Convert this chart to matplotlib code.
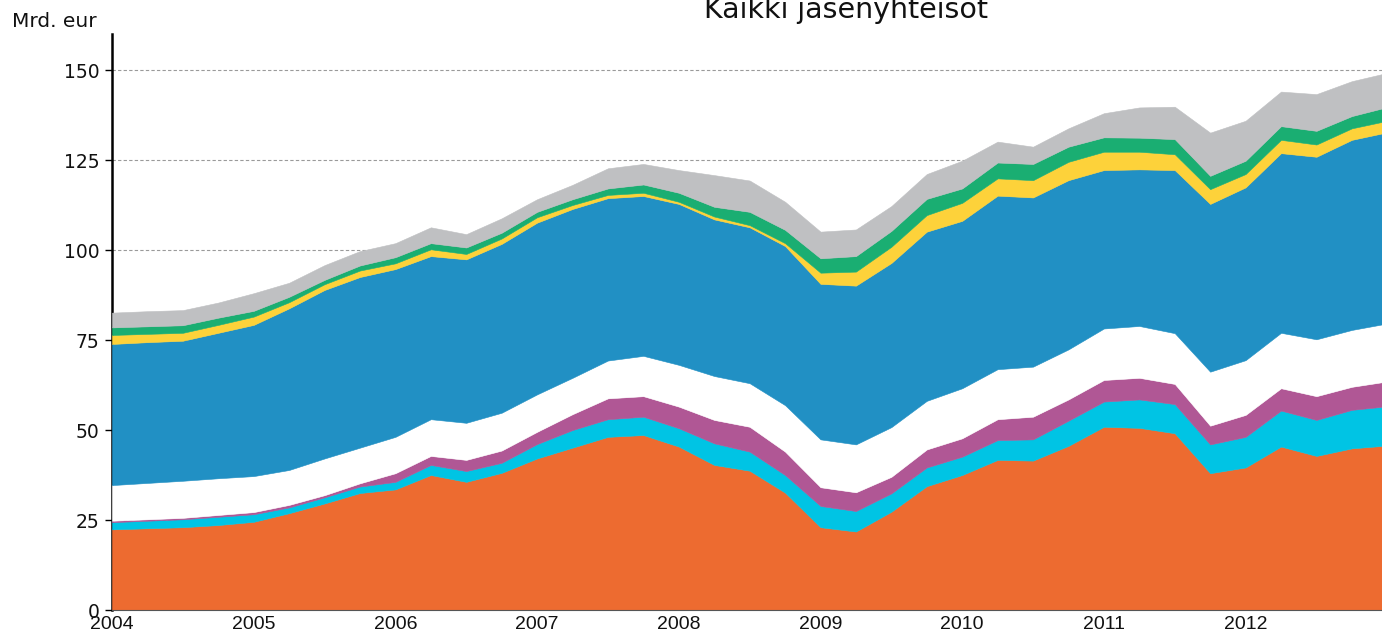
import matplotlib
matplotlib.use("Agg")
import matplotlib.pyplot as plt
import numpy as np

# Quarterly observations, 2004Q1 .. 2013Q1 (x in decimal years)
quarters = [2004 + 0.25 * i for i in range(37)]

orange = [22.4, 22.7, 23.0, 23.6, 24.5, 26.9, 29.6, 32.5, 33.5, 37.5, 35.6, 38.1,
          42.1, 45.1, 48.1, 48.6, 45.4, 40.3, 38.7, 32.6, 23.0, 21.8, 27.3, 34.4,
          37.5, 41.7, 41.5, 45.6, 50.9, 50.6, 49.1, 38.0, 39.6, 45.4, 42.8, 44.9, 45.7]
cyan = [2.0, 2.1, 2.2, 2.3, 2.1, 1.6, 1.7, 1.8, 2.1, 2.8, 3.0, 2.8,
        4.0, 4.9, 4.9, 5.1, 5.1, 6.0, 5.3, 4.9, 5.9, 5.7, 5.1, 5.2,
        5.1, 5.5, 5.9, 7.0, 7.0, 7.9, 8.1, 8.0, 8.5, 10.0, 10.0, 10.7, 10.9]
purple = [0.4, 0.4, 0.4, 0.5, 0.6, 0.7, 0.6, 0.9, 2.4, 2.5, 3.1, 3.4,
          3.4, 4.4, 5.8, 5.7, 6.0, 6.5, 6.9, 6.5, 5.2, 5.2, 4.6, 5.0,
          5.1, 5.8, 6.3, 5.9, 6.0, 6.0, 5.6, 5.2, 6.1, 6.2, 6.6, 6.4, 6.9]
white = [9.9, 10.1, 10.3, 10.2, 10.0, 9.7, 10.2, 9.9, 10.1, 10.2, 10.3, 10.5,
         10.4, 10.1, 10.5, 11.2, 11.6, 12.2, 12.1, 12.9, 13.3, 13.3, 13.8, 13.5,
         13.9, 13.9, 13.9, 13.9, 14.3, 14.4, 14.1, 15.0, 15.2, 15.4, 15.8, 15.8, 16.1]
blue = [39.2, 39.1, 38.9, 40.4, 42.0, 44.9, 46.8, 47.4, 46.6, 45.3, 45.4, 46.9,
        47.7, 46.9, 45.1, 44.4, 44.7, 43.5, 43.3, 44.2, 43.2, 44.1, 45.6, 47.0,
        46.5, 48.2, 47.0, 47.0, 44.0, 43.5, 45.3, 46.6, 48.0, 49.9, 50.7, 52.8, 53.1]
yellow = [2.5, 2.3, 2.2, 2.2, 2.3, 1.7, 1.6, 1.8, 1.6, 1.9, 1.5, 1.5,
          1.5, 1.1, 0.9, 0.9, 0.6, 0.8, 0.6, 0.8, 3.1, 3.9, 4.5, 4.6,
          5.0, 4.8, 4.8, 5.1, 5.1, 4.9, 4.4, 4.1, 3.7, 3.7, 3.4, 3.2, 3.2]
green = [2.1, 2.1, 2.1, 2.0, 1.6, 1.5, 1.2, 1.4, 1.7, 1.7, 1.8, 1.6,
         1.5, 1.6, 1.8, 2.3, 2.5, 2.7, 3.7, 3.7, 4.0, 4.3, 4.4, 4.5,
         4.0, 4.4, 4.5, 4.2, 4.0, 3.9, 4.2, 3.7, 3.7, 3.8, 3.8, 3.4, 3.8]
gray = [4.1, 4.2, 4.2, 4.2, 4.9, 3.9, 4.1, 4.0, 3.9, 4.4, 3.7, 4.0,
        3.5, 4.0, 5.6, 5.7, 6.3, 8.8, 8.7, 7.8, 7.4, 7.4, 6.9, 6.9,
        7.7, 5.8, 4.8, 5.1, 6.7, 8.4, 9.0, 12.0, 11.1, 9.6, 10.2, 9.7, 9.5]

colors = ["#ED6B30", "#00C4E4", "#B05795", "#FFFFFF",
          "#2190C4", "#FDD23A", "#1AAE72", "#BFC0C2"]

year_ticks = [2004, 2005, 2006, 2007, 2008, 2009, 2010, 2011, 2012]
y_ticks = [0, 25, 50, 75, 100, 125, 150]

W, H = 1382, 631
fig = plt.figure(figsize=(W / 100, H / 100), dpi=100)
ax = fig.add_axes([112 / W, 21 / H, 1270 / W, 576 / H])

ax.set_axisbelow(True)
ax.grid(axis="y", color="#9a9a9a", linestyle=(0, (3, 2)), linewidth=0.8)
ax.grid(axis="x", visible=False)

series = [orange, cyan, purple, white, blue, yellow, green, gray]
polys = ax.stackplot(quarters, *series, colors=colors, linewidth=0.4, zorder=1)
for p, c in zip(polys, colors):
    p.set_edgecolor(c)

ax.set_xlim(2004, 2004 + 1270 / 141.7)
ax.set_ylim(0, 160)

ax.set_yticks(y_ticks)
ax.set_yticklabels([str(v) for v in y_ticks])
ax.set_xticks(year_ticks)
ax.set_xticklabels([str(v) for v in year_ticks])

for s in ["top", "right"]:
    ax.spines[s].set_visible(False)
ax.spines["left"].set_linewidth(1.8)
ax.spines["left"].set_color("black")
ax.spines["left"].set_zorder(0.6)
ax.spines["bottom"].set_linewidth(0.8)
ax.spines["bottom"].set_color("#555555")

ax.tick_params(axis="y", length=5, width=1, color="black", pad=4,
               labelsize=13.5, labelcolor="#111111")
ax.tick_params(axis="x", length=0, pad=4, labelsize=14, labelcolor="#111111")
for lab in ax.get_xticklabels():
    lab.set_family(["Liberation Sans", "DejaVu Sans"])

fig.text(12 / W, 1 - 27 / H, "Mrd. eur", fontsize=14.5, color="#111111",
         ha="left", va="baseline")
fig.text(846 / W, 1 - 18.5 / H, "Kaikki jäsenyhteisöt", fontsize=20.5,
         color="#111111", ha="center", va="baseline")

fig.savefig("out.png", dpi=100)
